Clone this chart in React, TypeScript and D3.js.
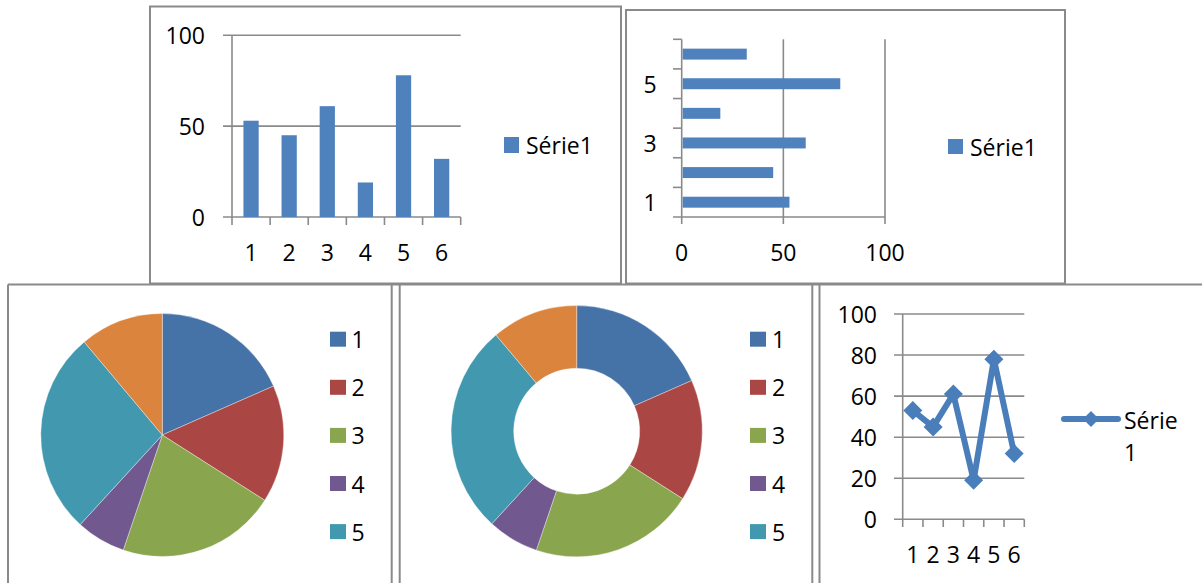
import React from "react";
import * as d3 from "d3";

// Chart data
const categories = ["1", "2", "3", "4", "5", "6"];
const serie1 = [53, 45, 61, 19, 78, 32];
const seriesLabel = "Série1";
const lineLegendLines = ["Série", "1"];
const barTicks = [0, 50, 100];
const lineTicks = [0, 20, 40, 60, 80, 100];
const hbarLabelled = ["1", "3", "5"];
const pieLegendItems = ["1", "2", "3", "4", "5"];
const pieColors = ["#4572A7", "#AA4643", "#89A54E", "#71588F", "#4198AF", "#DB843D"];

const BAR_BLUE = "#4F81BD";
const LINE_BLUE = "#4A7EBB";
const GRID = "#8A8A8A";
const BORDER = "#8A8A8A";
const FONT = "'Open Sans', 'Liberation Sans', sans-serif";
const FS = 23;

const txt = { fontFamily: FONT, fontSize: FS, fill: "#000" } as const;

function ColumnChart() {
  const x = d3.scaleBand<string>().domain(categories).range([232, 460.7]);
  const y = d3.scaleLinear().domain([0, 100]).range([217, 35.3]);
  const bw = x.bandwidth() * 0.4;
  return (
    <g>
      {barTicks.map((t) => (
        <g key={t}>
          <line x1={223} x2={460.7} y1={y(t)} y2={y(t)} stroke={GRID} strokeWidth={1.6} />
          <text x={205} y={y(t)} textAnchor="end" dominantBaseline="central" style={txt}>{t}</text>
        </g>
      ))}
      <line x1={x.range()[0]} x2={x.range()[0]} y1={y(100)} y2={225} stroke={GRID} strokeWidth={1.6} />
      {categories.map((c, i) => (
        <line key={"t" + c} x1={x(c)! + x.bandwidth()} x2={x(c)! + x.bandwidth()} y1={217} y2={225} stroke={GRID} strokeWidth={1.6} />
      ))}
      {categories.map((c, i) => (
        <rect key={"b" + c} x={x(c)! + (x.bandwidth() - bw) / 2} y={y(serie1[i])} width={bw} height={y(0) - y(serie1[i])} fill={BAR_BLUE} />
      ))}
      {categories.map((c) => (
        <text key={"l" + c} x={x(c)! + x.bandwidth() / 2} y={252} textAnchor="middle" dominantBaseline="central" style={txt}>{c}</text>
      ))}
      <rect x={504} y={137} width={15} height={16} fill={BAR_BLUE} />
      <text x={526} y={145} dominantBaseline="central" style={txt}>{seriesLabel}</text>
    </g>
  );
}

function HBarChart() {
  const y = d3.scaleBand<string>().domain(categories).range([217, 39.3]);
  const x = d3.scaleLinear().domain([0, 100]).range([681.7, 885]);
  const bh = y.bandwidth() * 0.37;
  return (
    <g>
      {barTicks.map((t) => (
        <g key={t}>
          {t > 0 && <line x1={x(t)} x2={x(t)} y1={39.3} y2={224} stroke={GRID} strokeWidth={1.6} />}
          <text x={x(t)} y={252} textAnchor="middle" dominantBaseline="central" style={txt}>{t}</text>
        </g>
      ))}
      <line x1={x(0)} x2={x(0)} y1={39.3} y2={224} stroke={GRID} strokeWidth={1.6} />
      <line x1={673} x2={x(100)} y1={217} y2={217} stroke={GRID} strokeWidth={1.6} />
      {categories.map((c) => (
        <line key={"t" + c} x1={673} x2={x(0)} y1={y(c)!} y2={y(c)!} stroke={GRID} strokeWidth={1.6} />
      ))}
      {categories.map((c, i) => (
        <rect key={"b" + c} x={x(0) + 1} y={y(c)! + (y.bandwidth() - bh) / 2} width={x(serie1[i]) - x(0) - 1} height={bh} fill={BAR_BLUE} />
      ))}
      {hbarLabelled.map((c) => (
        <text key={"l" + c} x={650} y={y(c)! + y.bandwidth() / 2} textAnchor="middle" dominantBaseline="central" style={txt}>{c}</text>
      ))}
      <rect x={948} y={139} width={15} height={15} fill={BAR_BLUE} />
      <text x={970} y={147} dominantBaseline="central" style={txt}>{seriesLabel}</text>
    </g>
  );
}

function PieLegend({ x, tx }: { x: number; tx: number }) {
  return (
    <g>
      {pieLegendItems.map((c, i) => {
        const cy = 339.2 + i * 48.1;
        return (
          <g key={c}>
            <rect x={x} y={cy - 7.5} width={16} height={15} fill={pieColors[i]} />
            <text x={tx} y={cy} dominantBaseline="central" style={txt}>{c}</text>
          </g>
        );
      })}
    </g>
  );
}

function PieChart() {
  const arcs = d3.pie<number>().sort(null)(serie1);
  const arc = d3.arc<d3.PieArcDatum<number>>().innerRadius(0).outerRadius(121.5);
  return (
    <g>
      <g transform="translate(162.3,435)">
        {arcs.map((a, i) => (
          <path key={i} d={arc(a)!} fill={pieColors[i]} stroke="#fff" strokeWidth={0.6} strokeOpacity={0.6} />
        ))}
      </g>
      <PieLegend x={330} tx={351.5} />
    </g>
  );
}

function DonutChart() {
  const arcs = d3.pie<number>().sort(null)(serie1);
  const arc = d3.arc<d3.PieArcDatum<number>>().innerRadius(63).outerRadius(125.6);
  return (
    <g>
      <g transform="translate(576.7,431.2)">
        {arcs.map((a, i) => (
          <path key={i} d={arc(a)!} fill={pieColors[i]} stroke="#fff" strokeWidth={0.6} strokeOpacity={0.6} />
        ))}
      </g>
      <PieLegend x={750} tx={772} />
    </g>
  );
}

function diamond(cx: number, cy: number, r: number) {
  return `M${cx},${cy - r}L${cx + r},${cy}L${cx},${cy + r}L${cx - r},${cy}Z`;
}

function LineChart() {
  const x = d3.scaleBand<string>().domain(categories).range([902.7, 1024.3]);
  const y = d3.scaleLinear().domain([0, 100]).range([519.3, 314]);
  const pts: [number, number][] = categories.map((c, i) => [x(c)! + x.bandwidth() / 2, y(serie1[i])]);
  const line = d3.line();
  return (
    <g>
      {lineTicks.map((t) => (
        <g key={t}>
          <line x1={894} x2={1024.3} y1={y(t)} y2={y(t)} stroke={GRID} strokeWidth={1.6} />
          <text x={877} y={y(t)} textAnchor="end" dominantBaseline="central" style={txt}>{t}</text>
        </g>
      ))}
      <line x1={902.7} x2={902.7} y1={314} y2={527} stroke={GRID} strokeWidth={1.6} />
      {categories.map((c) => (
        <line key={"t" + c} x1={x(c)! + x.bandwidth()} x2={x(c)! + x.bandwidth()} y1={519.3} y2={527} stroke={GRID} strokeWidth={1.6} />
      ))}
      <path d={line(pts)!} fill="none" stroke={LINE_BLUE} strokeWidth={6} strokeLinejoin="round" />
      {pts.map((p, i) => (
        <path key={i} d={diamond(p[0], p[1], 9.5)} fill={LINE_BLUE} />
      ))}
      {categories.map((c) => (
        <text key={"l" + c} x={x(c)! + x.bandwidth() / 2} y={554} textAnchor="middle" dominantBaseline="central" style={txt}>{c}</text>
      ))}
      <line x1={1064} x2={1118} y1={419} y2={419} stroke={LINE_BLUE} strokeWidth={6} strokeLinecap="round" />
      <path d={diamond(1091, 419, 8)} fill={LINE_BLUE} />
      <text x={1124} y={420} dominantBaseline="central" style={txt}>{lineLegendLines[0]}</text>
      <text x={1124} y={452} dominantBaseline="central" style={txt}>{lineLegendLines[1]}</text>
    </g>
  );
}

export default function App() {
  return (
    <div style={{ position: "absolute", left: 0, top: 0 }}>
      <svg width={1202} height={583} style={{ display: "block", background: "#fff" }}>
        {/* panel frames */}
        <g fill="none" stroke={BORDER} strokeWidth={2}>
          <rect x={150} y={6.5} width={471} height={277} />
          <rect x={626} y={10} width={439} height={273.5} />
          <line x1={8} x2={1202} y1={284.5} y2={284.5} />
          <line x1={8} x2={8} y1={284.5} y2={590} />
          <line x1={391.7} x2={391.7} y1={284.5} y2={590} />
          <line x1={399.7} x2={399.7} y1={284.5} y2={590} />
          <line x1={812.3} x2={812.3} y1={284.5} y2={590} />
          <line x1={819.5} x2={819.5} y1={284.5} y2={590} />
        </g>
        <ColumnChart />
        <HBarChart />
        <PieChart />
        <DonutChart />
        <LineChart />
      </svg>
    </div>
  );
}
